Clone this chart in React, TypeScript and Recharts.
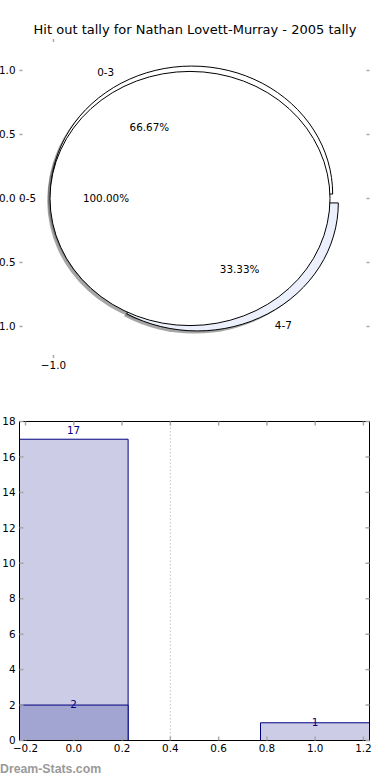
import React from 'react';
import {
  PieChart,
  Pie,
  Cell,
  ComposedChart,
  LineChart,
  Bar,
  XAxis,
  YAxis,
  ReferenceLine,
  LabelList,
} from 'recharts';

const FONT = '"DejaVu Sans", Verdana, sans-serif';
const TITLE = 'Hit out tally for Nathan Lovett-Murray - 2005 tally';
const WATERMARK = 'Dream-Stats.com';

// ---- pie data ----
const OUTER_NAMES = ['0-5'];
const OUTER_VALUES = [3];
const INNER_NAMES = ['0-3', '4-7'];
const INNER_VALUES = [2, 1];

const PIE_X_TICKS = [-1.0];
const PIE_Y_TICKS = [-1.0, -0.5, 0.0, 0.5, 1.0];

// ---- bar data ----
const BAR_X = [0, 1];
const BAR_TOTAL = [17, 1];
const BAR_SUB: (number | null)[] = [2, null];
const BAR_X_TICKS = [-0.2, 0.0, 0.2, 0.4, 0.6, 0.8, 1.0, 1.2];
const BAR_Y_TICKS = [0, 2, 4, 6, 8, 10, 12, 14, 16, 18];
const DIVIDER_X = 0.4;

// ---- styles ----
const OUTER_FILLS = ['#ffffff'];
const INNER_FILLS = ['#ffffff', '#ebf0fc'];
const LIGHT_BAR = '#ccccE6';
const DARK_BAR = '#a2a4d2';
const NAVY = '#000080';
const TICK_GREY = '#a8a8a8';
const LABEL_SIZE = 10.4;

const ASPECT = 128 / 141;
const RAD = Math.PI / 180;
const INNER_EXPLODE = 0.04;
const SHADOW = 0.02;

const outerData = OUTER_NAMES.map((name, i) => ({ name, value: OUTER_VALUES[i] }));
const innerData = INNER_NAMES.map((name, i) => ({ name, value: INNER_VALUES[i] }));
const barData = BAR_X.map((x, i) => ({ x, total: BAR_TOTAL[i], sub: BAR_SUB[i] }));

function wedgePath(cx: number, cy: number, r: number, a0: number, a1: number) {
  const rx = r;
  const ry = r * ASPECT;
  if (Math.abs(a1 - a0) >= 359.999) {
    return `M ${cx + rx} ${cy} A ${rx} ${ry} 0 1 0 ${cx - rx} ${cy} A ${rx} ${ry} 0 1 0 ${cx + rx} ${cy} Z`;
  }
  const lo = Math.min(a0, a1);
  const hi = Math.max(a0, a1);
  const x0 = cx + rx * Math.cos(lo * RAD);
  const y0 = cy - ry * Math.sin(lo * RAD);
  const x1 = cx + rx * Math.cos(hi * RAD);
  const y1 = cy - ry * Math.sin(hi * RAD);
  const large = hi - lo > 180 ? 1 : 0;
  return `M ${cx} ${cy} L ${x0} ${y0} A ${rx} ${ry} 0 ${large} 0 ${x1} ${y1} Z`;
}

function explodeOffset(r: number, mid: number, explode: number, full: boolean) {
  if (full) return [0, 0];
  return [explode * r * Math.cos(mid * RAD), -explode * r * ASPECT * Math.sin(mid * RAD)];
}

const wedgeShape = (explode: number) => (props: any) => {
  const { cx, cy, outerRadius, startAngle, endAngle, fill } = props;
  const full = Math.abs(endAngle - startAngle) >= 359.999;
  const mid = (startAngle + endAngle) / 2;
  const [dx, dy] = explodeOffset(outerRadius, mid, explode, full);
  return (
    <path
      d={wedgePath(cx + dx, cy + dy, outerRadius, startAngle, endAngle)}
      fill={fill}
      stroke="#000"
      strokeWidth={1}
    />
  );
};

const shadowShape = (explode: number) => (props: any) => {
  const { cx, cy, outerRadius, startAngle, endAngle } = props;
  const full = Math.abs(endAngle - startAngle) >= 359.999;
  const mid = (startAngle + endAngle) / 2;
  const [dx, dy] = explodeOffset(outerRadius, mid, explode, full);
  const sx = -SHADOW * outerRadius;
  const sy = SHADOW * outerRadius * ASPECT;
  return (
    <path
      d={wedgePath(cx + dx + sx, cy + dy + sy, outerRadius, startAngle, endAngle)}
      fill="#4d4d4d"
      fillOpacity={0.5}
      stroke="none"
    />
  );
};

const emptyShape = () => <g />;

const pieLabel = (explode: number) => (props: any) => {
  const { cx, cy, outerRadius, midAngle, percent, name } = props;
  const full = percent >= 0.99999;
  const [dx, dy] = explodeOffset(outerRadius, midAngle, explode, full);
  const c = Math.cos(midAngle * RAD);
  const s = Math.sin(midAngle * RAD);
  const lx = cx + dx + 1.1 * outerRadius * c;
  const ly = cy + dy - 1.1 * outerRadius * ASPECT * s;
  const px = cx + dx + 0.6 * outerRadius * c;
  const py = cy + dy - 0.6 * outerRadius * ASPECT * s;
  return (
    <g>
      <text x={lx} y={ly + 3.7} textAnchor={c > 0 ? 'start' : 'end'} fontSize={LABEL_SIZE} fontFamily={FONT} fill="#000">
        {name}
      </text>
      <text x={px} y={py + 3.7} textAnchor="middle" fontSize={LABEL_SIZE} fontFamily={FONT} fill="#000">
        {(percent * 100).toFixed(2)}%
      </text>
    </g>
  );
};

const fmt1 = (v: number) => (Math.abs(v) < 1e-9 ? 0 : v).toFixed(1).replace('-', '\u2212');

const makeBottomTick = (len: number, format: (v: number) => string) => (p: any) => (
  <g>
    <line x1={p.x} x2={p.x} y1={p.y} y2={p.y - len} stroke={TICK_GREY} strokeWidth={1.5} />
    <text x={p.x} y={p.y + 11} textAnchor="middle" fontSize={LABEL_SIZE} fontFamily={FONT} fill="#000">
      {format(p.payload.value)}
    </text>
  </g>
);
const makeTopTick = (len: number) => (p: any) => (
  <line x1={p.x} x2={p.x} y1={p.y} y2={p.y + len} stroke={TICK_GREY} strokeWidth={1.5} />
);
const makeLeftTick = (len: number, format: (v: number) => string) => (p: any) => (
  <g>
    <line x1={p.x} x2={p.x + len} y1={p.y} y2={p.y} stroke={TICK_GREY} strokeWidth={1.5} />
    <text x={p.x - 4} y={p.y + 3.7} textAnchor="end" fontSize={LABEL_SIZE} fontFamily={FONT} fill="#000">
      {format(p.payload.value)}
    </text>
  </g>
);
const makeRightTick = (len: number) => (p: any) => (
  <line x1={p.x} x2={p.x - len} y1={p.y} y2={p.y} stroke={TICK_GREY} strokeWidth={1.5} />
);

const barLabel = (props: any) => {
  const { x, y, width, height, value } = props;
  if (value === null || value === undefined) return null;
  return (
    <text
      x={Number(x) + Number(width) / 2}
      y={Number(y) - Number(height) * 0.03 + 3.7}
      textAnchor="middle"
      fontSize={LABEL_SIZE}
      fontFamily={FONT}
      fill={NAVY}
    >
      {value}
    </text>
  );
};

const PIE_X_DOMAIN: [number, number] = [-1.241, 1.241];
const PIE_Y_DOMAIN: [number, number] = [-1.246, 1.246];
const BAR_X_DOMAIN: [number, number] = [-0.225, 1.225];
const BAR_Y_DOMAIN: [number, number] = [0, 18];

const hAxis = { height: 1, tickSize: 0, tickMargin: 0, tickLine: false, interval: 0 as const, allowDataOverflow: true, type: 'number' as const };
const vAxis = { width: 1, tickSize: 0, tickMargin: 0, tickLine: false, interval: 0 as const, allowDataOverflow: true, type: 'number' as const };

export default function App() {
  return (
    <div style={{ position: 'absolute', left: 0, top: 0, width: 390, height: 780, background: '#fff', overflow: 'hidden' }}>
      <div
        style={{
          position: 'absolute',
          top: 22,
          left: 0,
          width: 390,
          textAlign: 'center',
          fontFamily: FONT,
          fontSize: 13,
          lineHeight: '15px',
          color: '#000',
          whiteSpace: 'nowrap',
        }}
      >
        {TITLE}
      </div>

      {/* pie axes (ticks only) */}
      <div style={{ position: 'absolute', left: 0, top: 0 }}>
        <LineChart width={390} height={390} data={[{ x: 0, y: 0 }]} margin={{ top: 38, right: 19.5, bottom: 31, left: 18.5 }}>
          <XAxis {...hAxis} xAxisId="b" dataKey="x" domain={PIE_X_DOMAIN} ticks={PIE_X_TICKS} axisLine={false}
            tick={makeBottomTick(3, fmt1)} />
          <XAxis {...hAxis} xAxisId="t" orientation="top" dataKey="x" domain={PIE_X_DOMAIN} ticks={PIE_X_TICKS} axisLine={false}
            tick={makeTopTick(3)} />
          <YAxis {...vAxis} yAxisId="l" dataKey="y" domain={PIE_Y_DOMAIN} ticks={PIE_Y_TICKS} axisLine={false}
            tick={makeLeftTick(3, fmt1)} />
          <YAxis {...vAxis} yAxisId="r" orientation="right" dataKey="y" domain={PIE_Y_DOMAIN} ticks={PIE_Y_TICKS} axisLine={false}
            tick={makeRightTick(3)} />
        </LineChart>
      </div>

      {/* pies */}
      <div style={{ position: 'absolute', left: 0, top: 0 }}>
        <PieChart width={390} height={390} margin={{ top: 0, right: 0, bottom: 0, left: 0 }}>
          <Pie data={innerData} dataKey="value" nameKey="name" cx={194.5} cy={198.5} outerRadius={141} startAngle={0} endAngle={360}
            isAnimationActive={false} label={false} labelLine={false} shape={shadowShape(INNER_EXPLODE)}>
            {innerData.map((d, i) => <Cell key={d.name} fill={INNER_FILLS[i]} />)}
          </Pie>
          <Pie data={outerData} dataKey="value" nameKey="name" cx={190} cy={198.5} outerRadius={140} startAngle={0} endAngle={360}
            isAnimationActive={false} label={false} labelLine={false} shape={shadowShape(0)}>
            {outerData.map((d, i) => <Cell key={d.name} fill={OUTER_FILLS[i]} />)}
          </Pie>
          <Pie data={innerData} dataKey="value" nameKey="name" cx={194.5} cy={198.5} outerRadius={141} startAngle={0} endAngle={360}
            isAnimationActive={false} label={false} labelLine={false} shape={wedgeShape(INNER_EXPLODE)}>
            {innerData.map((d, i) => <Cell key={d.name} fill={INNER_FILLS[i]} />)}
          </Pie>
          <Pie data={outerData} dataKey="value" nameKey="name" cx={190} cy={198.5} outerRadius={140} startAngle={0} endAngle={360}
            isAnimationActive={false} label={pieLabel(0)} labelLine={false} shape={wedgeShape(0)}>
            {outerData.map((d, i) => <Cell key={d.name} fill={OUTER_FILLS[i]} />)}
          </Pie>
          <Pie data={innerData} dataKey="value" nameKey="name" cx={194.5} cy={198.5} outerRadius={141} startAngle={0} endAngle={360}
            isAnimationActive={false} label={pieLabel(INNER_EXPLODE)} labelLine={false} shape={emptyShape}>
            {innerData.map((d, i) => <Cell key={d.name} fill={INNER_FILLS[i]} />)}
          </Pie>
        </PieChart>
      </div>

      {/* bars */}
      <div style={{ position: 'absolute', left: 0, top: 400 }}>
        <ComposedChart width={390} height={380} data={barData} margin={{ top: 20.5, right: 19.5, bottom: 38.5, left: 18.5 }}>
          <ReferenceLine xAxisId="bottom" yAxisId="left" x={DIVIDER_X} stroke="#c4c4c4" strokeDasharray="1.5 2" />
          <Bar xAxisId="bottom" yAxisId="left" dataKey="total" fill={LIGHT_BAR} stroke={NAVY} strokeWidth={1} barSize={109} isAnimationActive={false}>
            <LabelList dataKey="total" content={barLabel} />
          </Bar>
          <Bar xAxisId="top" yAxisId="left" dataKey="sub" fill={DARK_BAR} stroke={NAVY} strokeWidth={1} barSize={109} isAnimationActive={false}>
            <LabelList dataKey="sub" content={barLabel} />
          </Bar>
          <XAxis {...hAxis} xAxisId="bottom" dataKey="x" domain={BAR_X_DOMAIN} ticks={BAR_X_TICKS}
            axisLine={{ stroke: '#000' }} tick={makeBottomTick(4, fmt1)} />
          <XAxis {...hAxis} xAxisId="top" orientation="top" dataKey="x" domain={BAR_X_DOMAIN} ticks={BAR_X_TICKS}
            axisLine={{ stroke: '#000' }} tick={makeTopTick(4)} />
          <YAxis {...vAxis} yAxisId="left" domain={BAR_Y_DOMAIN} ticks={BAR_Y_TICKS}
            axisLine={{ stroke: '#000' }} tick={makeLeftTick(4, (v: number) => String(v))} />
          <YAxis {...vAxis} yAxisId="right" orientation="right" domain={BAR_Y_DOMAIN} ticks={BAR_Y_TICKS}
            axisLine={{ stroke: '#000' }} tick={makeRightTick(4)} />
        </ComposedChart>
      </div>

      <div
        style={{
          position: 'absolute',
          left: 0,
          top: 762,
          fontFamily: '"Liberation Sans", Arial, sans-serif',
          fontWeight: 'bold',
          fontSize: 12.3,
          lineHeight: '15px',
          color: '#9a9a9a',
          whiteSpace: 'nowrap',
        }}
      >
        {WATERMARK}
      </div>
    </div>
  );
}
